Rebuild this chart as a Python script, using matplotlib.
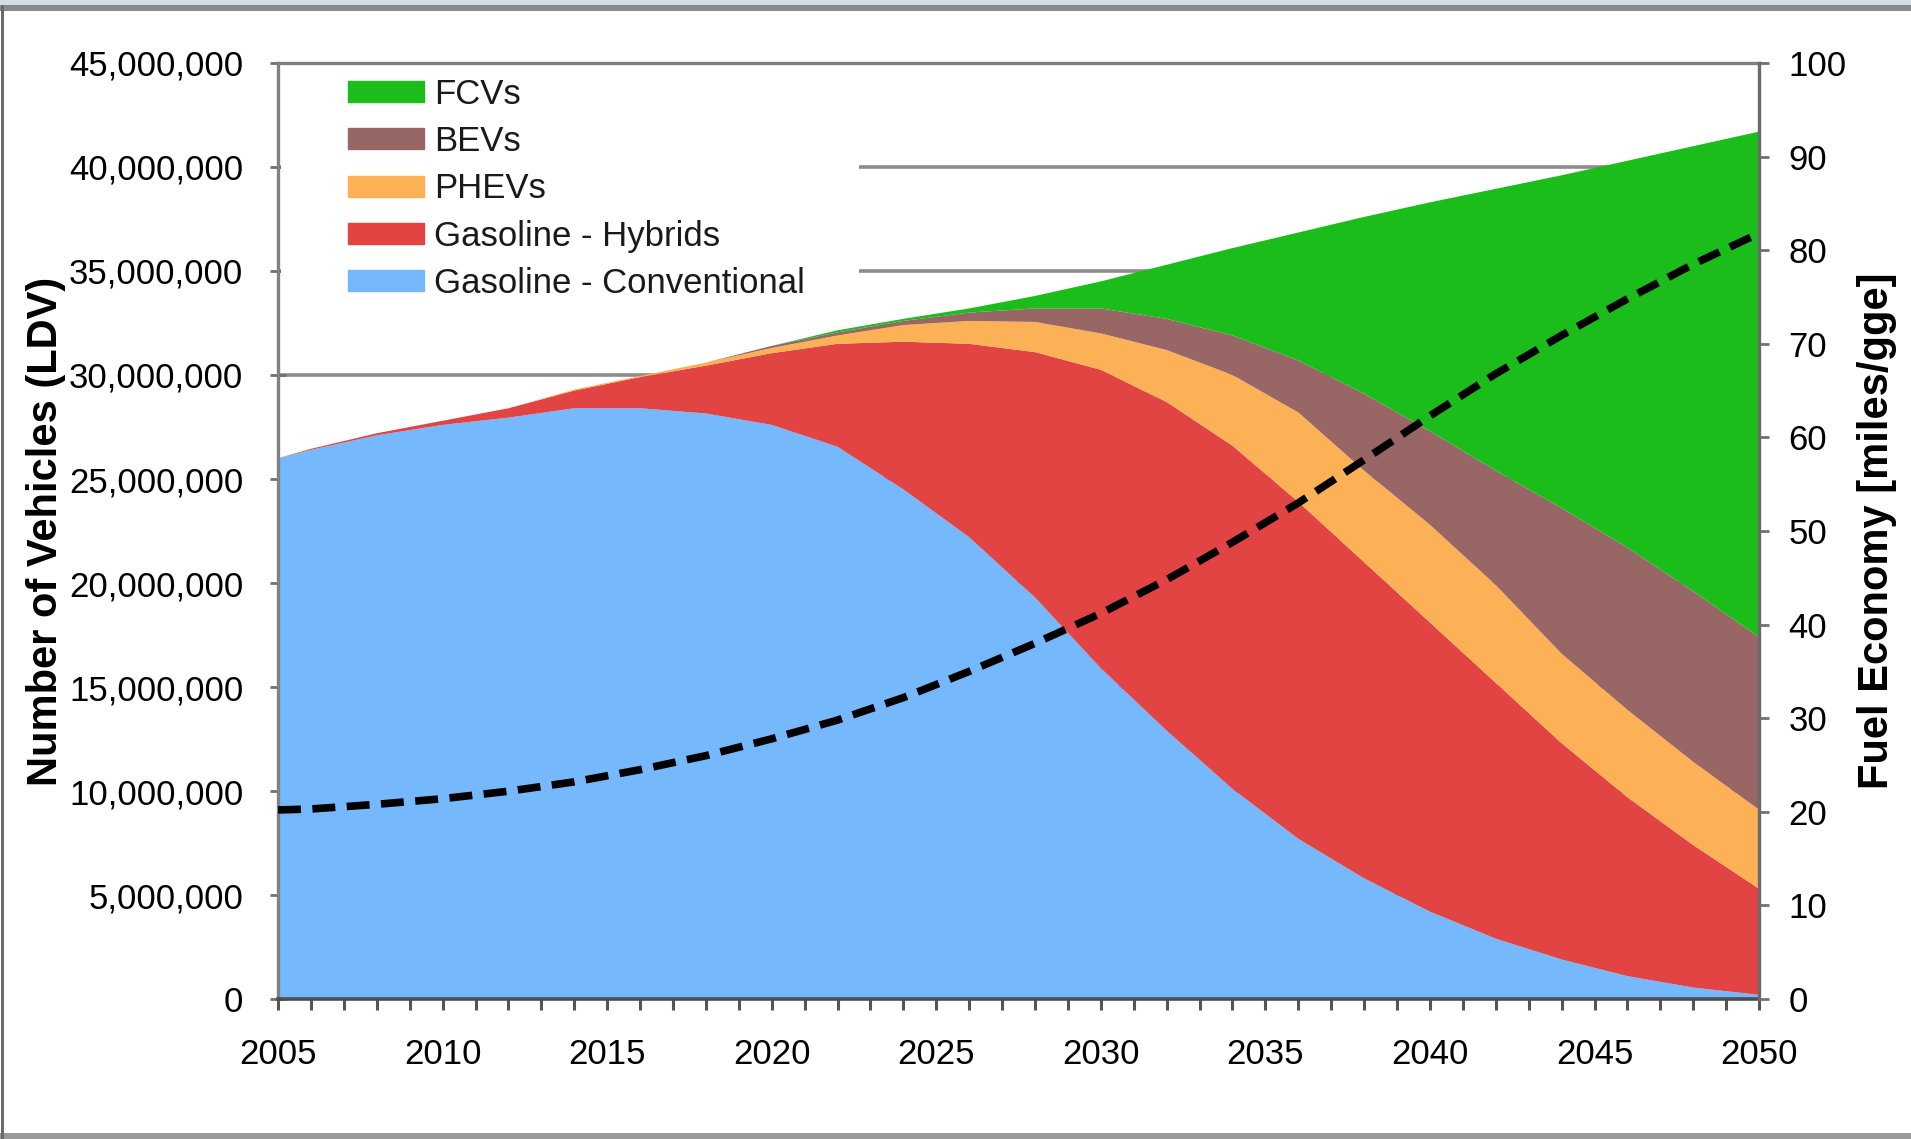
import matplotlib
matplotlib.use("Agg")
import matplotlib.pyplot as plt
from matplotlib.patches import Patch, Rectangle
from matplotlib.ticker import FuncFormatter, MultipleLocator

# values (millions of vehicles, mpgge)
years = [2005, 2006, 2008, 2010, 2012, 2014, 2016, 2018, 2020, 2022, 2024, 2026,
         2028, 2030, 2032, 2034, 2036, 2038, 2040, 2042, 2044, 2046, 2048, 2050]
conventional = [26.0, 26.4, 27.1, 27.6, 27.95, 28.4, 28.4, 28.15, 27.6, 26.55, 24.5, 22.2,
                19.3, 15.9, 12.9, 10.1, 7.7, 5.8, 4.2, 2.9, 1.9, 1.1, 0.55, 0.2]
hybrids = [0.0, 0.05, 0.1, 0.2, 0.45, 0.85, 1.5, 2.3, 3.45, 4.95, 7.1, 9.3,
           11.8, 14.35, 15.8, 16.5, 16.2, 15.2, 13.9, 12.3, 10.4, 8.6, 6.85, 5.1]
phevs = [0, 0, 0, 0, 0, 0.05, 0.05, 0.15, 0.25, 0.4, 0.8, 1.1,
         1.45, 1.75, 2.5, 3.4, 4.3, 4.4, 4.7, 4.7, 4.3, 4.2, 4.0, 3.8]
bevs = [0, 0, 0, 0, 0, 0, 0, 0, 0.1, 0.15, 0.2, 0.4,
        0.65, 1.2, 1.5, 1.9, 2.5, 3.7, 4.5, 5.5, 7.0, 7.8, 8.2, 8.3]
fcvs = [0, 0, 0, 0, 0, 0, 0, 0, 0, 0.1, 0.1, 0.2,
        0.6, 1.3, 2.6, 4.2, 6.15, 8.5, 11.0, 13.55, 16.0, 18.6, 21.4, 24.3]
fuel_economy = [20.2, 20.3, 20.8, 21.4, 22.2, 23.2, 24.5, 26.0, 27.8, 29.8, 32.2, 35.0,
                38.0, 41.2, 44.8, 48.8, 53.0, 57.6, 62.3, 66.8, 70.9, 74.8, 78.5, 81.8]

labels = ["Gasoline - Conventional", "Gasoline - Hybrids", "PHEVs", "BEVs", "FCVs"]
colors = ["#75b8fc", "#e24443", "#fcb157", "#996666", "#1bbd1b"]

plt.rcParams["font.family"] = ["Liberation Sans", "DejaVu Sans"]
plt.rcParams["text.color"] = "#1a1a1a"

fig = plt.figure(figsize=(19.11, 11.39), dpi=100)

# slide frame around the chart
fig.add_artist(Rectangle((0, 0.9955), 1, 0.0045, transform=fig.transFigure,
                         color="#d3dde8", lw=0))
fig.add_artist(Rectangle((0, 0.9905), 1, 0.005, transform=fig.transFigure,
                         color="#8a8a8a", lw=0))
fig.add_artist(Rectangle((0, 0), 1, 0.005, transform=fig.transFigure,
                         color="#9a9a9a", lw=0))
fig.add_artist(Rectangle((0.0005, 0), 0.0015, 0.9955, transform=fig.transFigure,
                         color="#6a6a6a", lw=0))

ax = fig.add_axes([0.1455, 0.1229, 0.775, 0.8218])

scale = 1e6
stack = [[v * scale for v in s] for s in (conventional, hybrids, phevs, bevs, fcvs)]
ax.stackplot(years, *stack, colors=colors, lw=0, zorder=2)

ax.set_xlim(2005, 2050)
ax.set_ylim(0, 45e6)
ax.yaxis.set_major_locator(MultipleLocator(5e6))
ax.yaxis.set_major_formatter(FuncFormatter(lambda v, p: f"{v:,.0f}"))
ax.xaxis.set_major_locator(MultipleLocator(5))
ax.xaxis.set_minor_locator(MultipleLocator(1))

ax.set_axisbelow(True)
ax.yaxis.grid(True, color="#8c8c8c", lw=2.6, zorder=0)
# white box behind the legend hides the grid lines there
ax.add_patch(Rectangle((0.002, 0.72), 0.39, 0.272, transform=ax.transAxes,
                       color="white", lw=0, zorder=1))

for side in ["left", "top"]:
    ax.spines[side].set_color("#808080")
    ax.spines[side].set_linewidth(2.4)
ax.spines["bottom"].set_color("#4d4d4d")
ax.spines["bottom"].set_linewidth(2.6)
ax.spines["right"].set_visible(False)

ax.tick_params(axis="y", direction="inout", length=12, width=2, color="#707070",
               labelsize=25, pad=19)
ax.tick_params(axis="x", which="both", direction="out", length=8, width=2.2,
               color="#555555", labelsize=25, pad=20)
ax.set_ylabel("Number of Vehicles (LDV)", fontsize=30, fontweight="bold")
ax.yaxis.set_label_coords(-0.143, 0.5)

handles = [Patch(color=c, label=l) for c, l in zip(colors, labels)][::-1]
ax.legend(handles=handles, loc="upper left", bbox_to_anchor=(0.047, 0.984),
          frameon=False, fontsize=25, handlelength=2.2, handleheight=0.56,
          handletextpad=0.3, labelspacing=0.41, borderpad=0, borderaxespad=0)

ax2 = ax.twinx()
ax2.plot(years, fuel_economy, color="black", lw=5.5, ls=(0, (3.0, 1.5)),
         dash_capstyle="butt", zorder=5)
ax2.set_ylim(0, 100)
ax2.yaxis.set_major_locator(MultipleLocator(10))
for side in ["left", "top", "bottom"]:
    ax2.spines[side].set_visible(False)
ax2.spines["right"].set_color("#6a6a6a")
ax2.spines["right"].set_linewidth(2.4)
ax2.tick_params(axis="y", direction="out", length=7, width=2, color="#707070",
                labelsize=25, pad=14)
ax2.set_ylabel("Fuel Economy [miles/gge]", fontsize=30, fontweight="bold")
ax2.yaxis.set_label_coords(1.066, 0.5)

fig.savefig("out.png", dpi=100)
